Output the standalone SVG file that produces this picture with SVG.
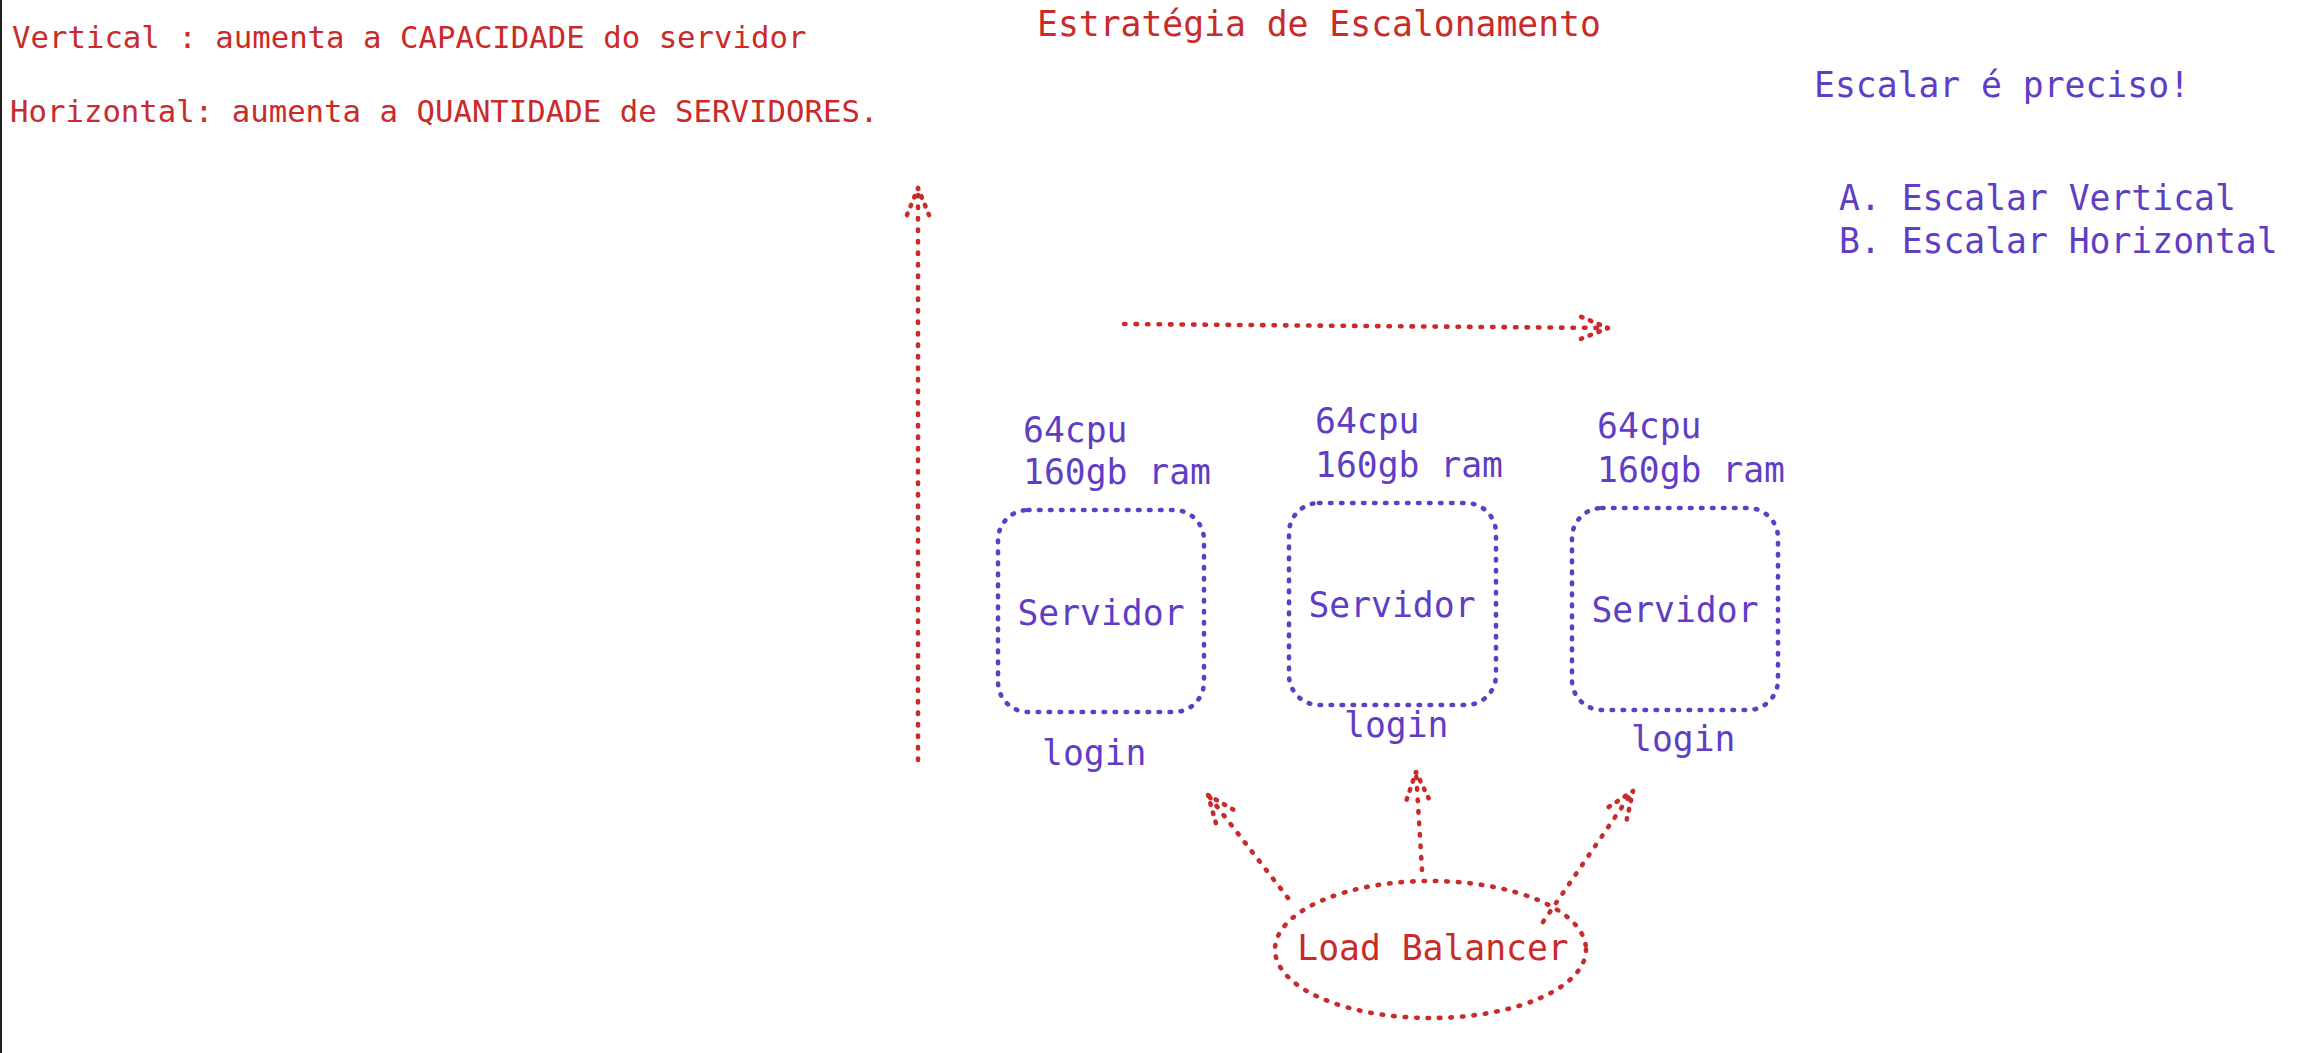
<svg xmlns="http://www.w3.org/2000/svg" width="2323" height="1053" viewBox="0 0 2323 1053">
<style>
.t{font-family:"DejaVu Sans Mono","Liberation Mono",monospace;}
.red{fill:#c92a2a;}
.vio{fill:#5f3dc4;}
.s{font-size:30.7px;}
.m{font-size:34.7px;}
.dr{fill:none;stroke:#c92a2a;stroke-width:4.6;stroke-linecap:round;stroke-linejoin:round;stroke-dasharray:1.5 10;}
.dv{fill:none;stroke:#5f3dc4;stroke-width:4.6;stroke-linecap:round;stroke-dasharray:1.5 9.5;}
</style>
<defs>
<marker id="ah" markerUnits="userSpaceOnUse" orient="auto" refX="0" refY="0" markerWidth="40" markerHeight="40" overflow="visible">
<path d="M-27,-11 L0,0 L-27,11" fill="none" stroke="#c92a2a" stroke-width="4.6" stroke-linecap="round" stroke-linejoin="round" stroke-dasharray="1.5 8"/>
</marker>
</defs>
<rect width="2323" height="1053" fill="#ffffff"/>
<rect x="0" y="0" width="2" height="1053" fill="#1e1e1e"/>

<g id="notes">
<text class="t red s" x="12" y="48">Vertical : aumenta a CAPACIDADE do servidor</text>
<text class="t red s" x="10" y="122">Horizontal: aumenta a QUANTIDADE de SERVIDORES.</text>
</g>
<g id="title">
<text class="t red m" x="1037" y="36">Estratégia de Escalonamento</text>
</g>
<g id="list">
<text class="t vio m" x="1814" y="97">Escalar é preciso!</text>
<text class="t vio m" x="1839" y="210">A. Escalar Vertical</text>
<text class="t vio m" x="1839" y="253">B. Escalar Horizontal</text>
</g>

<g id="server1">
<text class="t vio m" x="1023" y="442">64cpu</text>
<text class="t vio m" x="1023" y="484">160gb ram</text>
<rect class="dv" x="998" y="510" width="206" height="202" rx="30"/>
<text class="t vio m" x="1101" y="625" text-anchor="middle">Servidor</text>
<text class="t vio m" x="1042" y="765">login</text>
</g>
<g id="server2">
<text class="t vio m" x="1315" y="433">64cpu</text>
<text class="t vio m" x="1315" y="477">160gb ram</text>
<rect class="dv" x="1289" y="503" width="207" height="202" rx="30"/>
<text class="t vio m" x="1392" y="617" text-anchor="middle">Servidor</text>
<text class="t vio m" x="1344" y="737">login</text>
</g>
<g id="server3">
<text class="t vio m" x="1597" y="438">64cpu</text>
<text class="t vio m" x="1597" y="482">160gb ram</text>
<rect class="dv" x="1572" y="508" width="206" height="202" rx="30"/>
<text class="t vio m" x="1675" y="622" text-anchor="middle">Servidor</text>
<text class="t vio m" x="1631" y="751">login</text>
</g>
<g id="loadbalancer">
<ellipse class="dr" cx="1430.5" cy="949.5" rx="155.5" ry="68.5"/>
<text class="t red m" x="1433" y="960" text-anchor="middle">Load Balancer</text>
</g>

<g id="connectors">
<path class="dr" d="M918,760 L918,188" marker-end="url(#ah)"/>
<path class="dr" d="M1124,324 L1608,328" marker-end="url(#ah)"/>
<path class="dr" d="M1288,898 L1208,795" marker-end="url(#ah)"/>
<path class="dr" d="M1422,870 L1416,772" marker-end="url(#ah)"/>
<path class="dr" d="M1543,922 L1633,791" marker-end="url(#ah)"/>
</g>
</svg>
